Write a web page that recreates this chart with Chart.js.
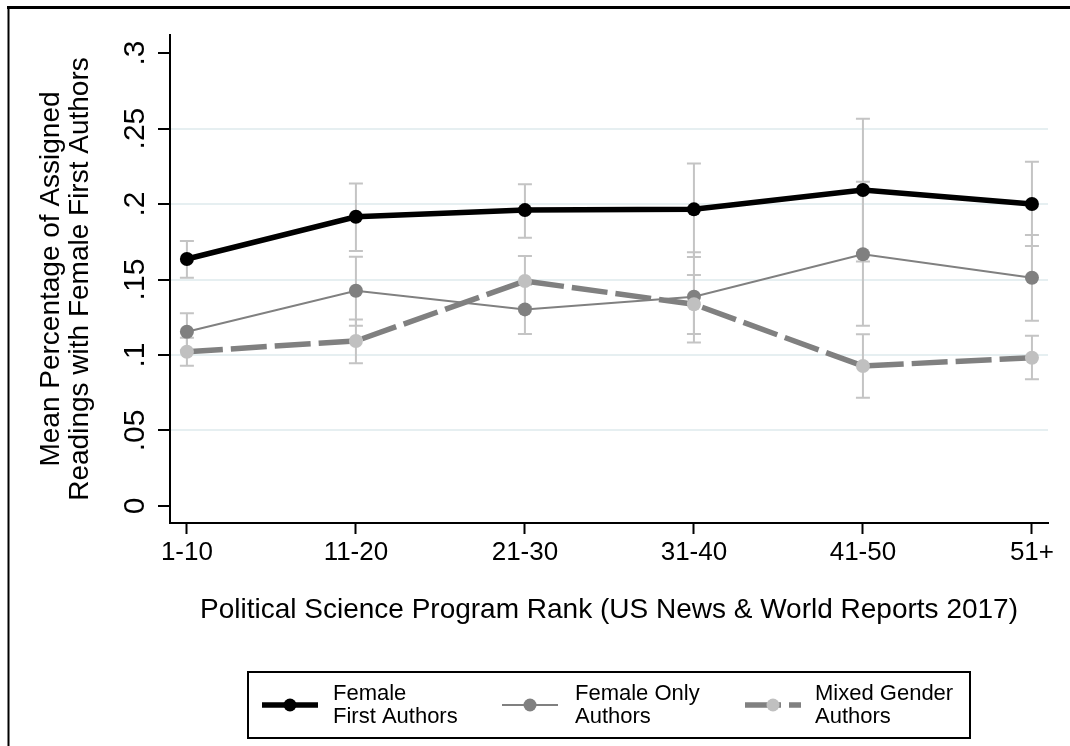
<!DOCTYPE html>
<html>
<head>
<meta charset="utf-8">
<script src="https://cdn.jsdelivr.net/npm/chart.js@4.4.1/dist/chart.umd.min.js"></script>
<style>
  html, body { margin: 0; padding: 0; background: #fff; }
  #wrap { width: 1070px; height: 746px; }
</style>
</head>
<body>
<div id="wrap"><canvas id="c" width="1070" height="746"></canvas></div>
<script>
// Program rank groups (x axis) and y tick labels
const rankGroups = ['1-10', '11-20', '21-30', '31-40', '41-50', '51+'];
const yTickValues = [0, 0.05, 0.1, 0.15, 0.2, 0.25, 0.3];
const yTickLabels = ['0', '.05', '.1', '.15', '.2', '.25', '.3'];

// Mean share of assigned readings, with confidence interval bounds
const femaleFirst     = [0.1636, 0.1916, 0.1960, 0.1965, 0.2093, 0.2000];
const femaleFirstLow  = [0.1512, 0.1689, 0.1777, 0.1650, 0.1620, 0.1722];
const femaleFirstHigh = [0.1755, 0.2137, 0.2132, 0.2269, 0.2565, 0.2280];

const femaleOnly      = [0.1154, 0.1426, 0.1302, 0.1386, 0.1667, 0.1512];
const femaleOnlyLow   = [0.1032, 0.1194, 0.1139, 0.1082, 0.1194, 0.1227];
const femaleOnlyHigh  = [0.1276, 0.1651, 0.1465, 0.1680, 0.2148, 0.1795];

const mixedGender     = [0.1022, 0.1093, 0.1490, 0.1336, 0.0927, 0.0982];
const mixedGenderLow  = [0.0929, 0.0945, 0.1320, 0.1139, 0.0717, 0.0839];
const mixedGenderHigh = [0.1115, 0.1236, 0.1656, 0.1530, 0.1137, 0.1128];

const seriesNames = [['Female', 'First Authors'], ['Female Only', 'Authors'], ['Mixed Gender', 'Authors']];

const FONT = "'Liberation Sans', Arial, sans-serif";
const toPoints = arr => arr.map((v, i) => ({ x: i + 1, y: v }));

// Frame around the whole graph
const framePlugin = {
  id: 'frame',
  beforeDraw(chart) {
    const ctx = chart.ctx;
    ctx.save();
    ctx.fillStyle = '#fff';
    ctx.fillRect(0, 0, chart.width, chart.height);
    ctx.strokeStyle = '#000';
    ctx.lineWidth = 3;
    ctx.beginPath();
    ctx.moveTo(7, 7.5);
    ctx.lineTo(chart.width, 7.5);
    ctx.stroke();
    ctx.lineWidth = 2;
    ctx.beginPath();
    ctx.moveTo(8.5, 6);
    ctx.lineTo(8.5, chart.height);
    ctx.stroke();
    ctx.restore();
  }
};

// Capped confidence-interval bars drawn beneath the lines
const errorBarPlugin = {
  id: 'errorBars',
  beforeDatasetsDraw(chart) {
    const ctx = chart.ctx;
    const xs = chart.scales.x, ys = chart.scales.y;
    ctx.save();
    ctx.strokeStyle = '#c4c4c4';
    ctx.lineWidth = 2;
    chart.data.datasets.forEach(ds => {
      ds.low.forEach((lo, i) => {
        const hi = ds.high[i];
        const x = xs.getPixelForValue(i + 1);
        const y1 = ys.getPixelForValue(lo);
        const y2 = ys.getPixelForValue(hi);
        ctx.beginPath();
        ctx.moveTo(x, y1); ctx.lineTo(x, y2);
        ctx.moveTo(x - 7, y1); ctx.lineTo(x + 7, y1);
        ctx.moveTo(x - 7, y2); ctx.lineTo(x + 7, y2);
        ctx.stroke();
      });
    });
    ctx.restore();
  }
};

// Boxed legend with two-line labels below the axis title
const legendPlugin = {
  id: 'boxLegend',
  afterDraw(chart) {
    const ctx = chart.ctx;
    const box = { x: 248, y: 672, w: 722, h: 66 };
    const sampleX = [262, 502, 745];
    const textX = [333, 575, 815];
    const sampleW = 56;
    const midY = box.y + box.h / 2;
    ctx.save();
    ctx.strokeStyle = '#000';
    ctx.lineWidth = 2;
    ctx.strokeRect(box.x, box.y, box.w, box.h);
    chart.data.datasets.forEach((ds, k) => {
      const x0 = sampleX[k];
      ctx.strokeStyle = ds.borderColor;
      ctx.lineWidth = ds.borderWidth;
      ctx.setLineDash(ds.borderDash || []);
      ctx.beginPath();
      ctx.moveTo(x0, midY);
      ctx.lineTo(x0 + sampleW, midY);
      ctx.stroke();
      ctx.setLineDash([]);
      ctx.fillStyle = ds.pointBackgroundColor;
      ctx.beginPath();
      ctx.arc(x0 + sampleW / 2, midY, 6.5, 0, Math.PI * 2);
      ctx.fill();
      ctx.fillStyle = '#000';
      ctx.font = '22px ' + FONT;
      ctx.textAlign = 'left';
      ctx.textBaseline = 'middle';
      seriesNames[k].forEach((line, j) => {
        ctx.fillText(line, textX[k], midY - 11.5 + j * 23);
      });
    });
    ctx.restore();
  }
};

new Chart(document.getElementById('c'), {
  type: 'line',
  data: {
    datasets: [
      {
        label: seriesNames[0].join(' '),
        data: toPoints(femaleFirst), low: femaleFirstLow, high: femaleFirstHigh,
        borderColor: '#000000', borderWidth: 5.5,
        pointBackgroundColor: '#000000', pointBorderWidth: 0, pointRadius: 7,
        order: 3
      },
      {
        label: seriesNames[1].join(' '),
        data: toPoints(femaleOnly), low: femaleOnlyLow, high: femaleOnlyHigh,
        borderColor: '#808080', borderWidth: 2,
        pointBackgroundColor: '#808080', pointBorderWidth: 0, pointRadius: 7,
        order: 2
      },
      {
        label: seriesNames[2].join(' '),
        data: toPoints(mixedGender), low: mixedGenderLow, high: mixedGenderHigh,
        borderColor: '#808080', borderWidth: 5.5, borderDash: [36, 8],
        pointBackgroundColor: '#c0c0c0', pointBorderWidth: 0, pointRadius: 7,
        order: 1
      }
    ]
  },
  options: {
    responsive: false,
    animation: false,
    devicePixelRatio: 1,
    layout: { padding: { left: 0, top: 35, right: 22, bottom: 119 } },
    elements: { line: { tension: 0, fill: false } },
    plugins: { legend: { display: false }, tooltip: { enabled: false } },
    scales: {
      x: {
        type: 'linear',
        min: 0.9, max: 6.095,
        afterBuildTicks: s => { s.ticks = rankGroups.map((_, i) => ({ value: i + 1 })); },
        afterFit: s => { s.height = 104; },
        ticks: {
          callback: v => rankGroups[v - 1],
          font: { family: FONT, size: 26 }, color: '#000',
          padding: 3, maxRotation: 0, autoSkip: false
        },
        grid: { drawOnChartArea: false, drawTicks: true, tickLength: 11, tickColor: '#000', tickWidth: 2 },
        border: { color: '#000', width: 2 },
        title: {
          display: true,
          text: 'Political Science Program Rank (US News & World Reports 2017)',
          font: { family: FONT, size: 28 }, color: '#000',
          padding: { top: 0, bottom: 0 }
        }
      },
      y: {
        type: 'linear',
        min: -0.0113, max: 0.312,
        afterBuildTicks: s => { s.ticks = yTickValues.map(v => ({ value: v })); },
        afterFit: s => { s.width = 170; },
        ticks: {
          callback: (v, i) => yTickLabels[i],
          font: { family: FONT, size: 30 }, color: '#000',
          minRotation: 90, maxRotation: 90, crossAlign: 'center', padding: 1
        },
        grid: {
          color: c => (c.index > 0 && c.index < yTickValues.length - 1) ? '#e6eff1' : 'rgba(0,0,0,0)',
          lineWidth: 2, tickLength: 12, tickColor: '#000', tickWidth: 2
        },
        border: { color: '#000', width: 2 },
        title: {
          display: true,
          text: ['Mean Percentage of Assigned', 'Readings with Female First Authors'],
          font: { family: FONT, size: 28, lineHeight: 1.03 }, color: '#000',
          padding: { top: 37, bottom: 0 }
        }
      }
    }
  },
  plugins: [framePlugin, errorBarPlugin, legendPlugin]
});
</script>
</body>
</html>
